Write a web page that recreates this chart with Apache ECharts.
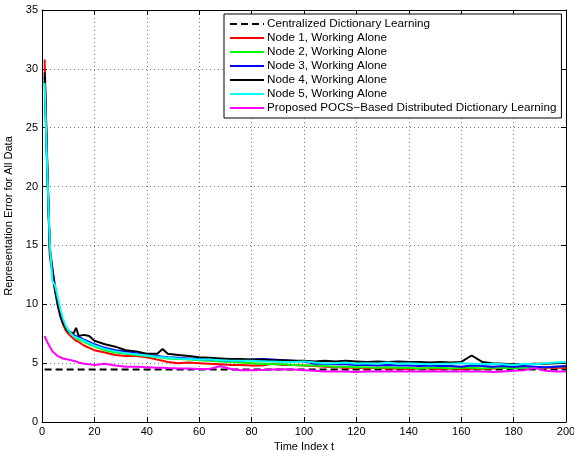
<!DOCTYPE html>
<html><head><meta charset="utf-8">
<script src="https://cdn.jsdelivr.net/npm/echarts@6/dist/echarts.min.js"></script>
<style>html,body{margin:0;padding:0;background:#fff}#c{width:574px;height:452px}</style>
</head><body><div id="c"></div>
<script>
const T = [1,2,3,4,5,6,7,8,9,10,12,13,14,16,18,20,24,28,32,36,40,44,46,48,52,56,60,64,68,72,76,80,84,88,92,96,100,104,108,112,116,120,124,128,132,136,140,144,148,152,156,160,164,168,172,176,180,184,188,192,196,200];
const central = [[1,4.45],[200,4.45]];
const node1 = [30.8,22.0,14.0,12.6,11.1,9.9,9.0,8.3,7.8,7.5,7.1,6.9,6.8,6.5,6.3,6.1,5.9,5.7,5.6,5.6,5.5,5.3,5.2,5.1,5.0,5.05,5.0,4.95,4.9,4.85,4.85,4.8,4.8,4.95,4.85,4.85,4.8,4.75,4.7,4.65,4.6,4.6,4.55,4.6,4.55,4.55,4.5,4.55,4.55,4.5,4.55,4.5,4.55,4.5,4.55,4.6,4.65,4.6,4.65,4.6,4.6,4.6];
const node2 = [29.0,21.0,14.5,12.8,11.2,10.1,9.2,8.5,8.0,7.7,7.3,7.1,7.0,6.8,6.6,6.4,6.1,5.9,5.8,5.7,5.6,5.5,5.45,5.4,5.35,5.3,5.25,5.2,5.15,5.1,5.05,5.0,4.95,4.9,4.9,4.85,4.8,4.8,4.75,4.7,4.7,4.65,4.65,4.6,4.65,4.6,4.6,4.55,4.6,4.6,4.55,4.6,4.6,4.55,4.6,4.6,4.55,4.6,4.6,4.65,4.7,4.75];
const node3 = [29.3,21.5,14.8,13.0,11.5,10.3,9.3,8.6,8.1,7.8,7.4,7.3,7.2,7.0,6.8,6.6,6.3,6.1,6.0,5.85,5.7,5.6,5.55,5.5,5.45,5.4,5.35,5.3,5.25,5.2,5.2,5.3,5.35,5.3,5.25,5.2,5.15,4.95,4.95,4.9,4.9,4.85,4.85,4.8,4.85,4.8,4.8,4.75,4.8,4.75,4.75,4.7,4.8,4.75,4.7,4.75,4.7,4.75,4.7,4.65,4.7,4.75];
const node4 = [29.7,22.0,14.5,12.8,11.2,10.0,9.0,8.4,8.0,7.7,7.5,8.0,7.3,7.4,7.3,6.9,6.6,6.4,6.1,6.0,5.8,5.8,6.2,5.8,5.7,5.6,5.5,5.45,5.4,5.35,5.35,5.3,5.3,5.25,5.25,5.2,5.2,5.15,5.2,5.15,5.2,5.15,5.1,5.15,5.1,5.15,5.1,5.1,5.05,5.1,5.05,5.1,5.65,5.1,5.0,4.95,4.9,4.9,4.95,4.95,5.0,5.05];
const node5 = [28.8,21.5,15.0,12.0,11.6,10.6,9.6,8.8,8.2,7.8,7.3,7.2,7.1,6.9,6.7,6.5,6.2,6.0,5.85,5.75,5.65,5.55,5.5,5.45,5.4,5.35,5.3,5.3,5.25,5.2,5.2,5.2,5.15,5.15,5.1,5.1,5.15,5.05,5.0,5.0,5.05,4.95,5.0,4.95,5.05,4.95,5.0,4.95,4.9,4.95,4.95,5.0,4.95,4.9,4.95,4.9,4.85,4.95,4.9,5.0,5.05,5.1];
const pocs = [7.3,6.8,6.4,6.0,5.8,5.6,5.5,5.4,5.35,5.3,5.2,5.15,5.05,4.95,4.9,4.85,4.95,4.8,4.7,4.7,4.65,4.6,4.6,4.58,4.55,4.55,4.5,4.5,4.75,4.5,4.4,4.4,4.42,4.45,4.48,4.45,4.4,4.35,4.3,4.3,4.28,4.25,4.28,4.3,4.3,4.28,4.3,4.3,4.32,4.3,4.28,4.3,4.3,4.28,4.25,4.3,4.35,4.4,4.6,4.35,4.3,4.28];
const names = ['Centralized Dictionary Learning','Node 1, Working Alone','Node 2, Working Alone','Node 3, Working Alone','Node 4, Working Alone','Node 5, Working Alone','Proposed POCS\u2212Based Distributed Dictionary Learning'];
const colors = ['#000000','#ff0000','#00ff00','#0000ff','#000000','#00ffff','#ff00ff'];
const xTicks = [0,20,40,60,80,100,120,140,160,180,200];
const yTicks = [0,5,10,15,20,25,30,35];

const zip = v => T.map((t,i)=>[t,v[i]]);
const seriesData = [central, zip(node1), zip(node2), zip(node3), zip(node4), zip(node5), zip(pocs)];
const FONT = 'Liberation Sans';
const chart = echarts.init(document.getElementById('c'), null, {renderer:'canvas'});
const gridLine = {show:true, lineStyle:{color:'#777', type:[1,3], width:1}};
const baseX = {type:'value', min:0, max:200, interval:20};
const baseY = {type:'value', min:0, max:35, interval:5};
chart.setOption({
  animation:false,
  backgroundColor:'#fff',
  grid:{left:42, right:8, top:10, bottom:30, containLabel:false, outerBoundsMode:'none'},
  xAxis:[
    Object.assign({}, baseX, {position:'bottom', name:'Time Index t', nameLocation:'middle', nameGap:17,
      nameTextStyle:{fontFamily:FONT, fontSize:11, color:'#000'},
      axisLine:{show:true, onZero:false, lineStyle:{color:'#000', width:1}},
      axisTick:{show:true, inside:true, length:5, lineStyle:{color:'#000'}},
      axisLabel:{fontFamily:FONT, fontSize:11, color:'#000', margin:4, formatter:v=>xTicks.includes(v)?String(v):''},
      splitLine:gridLine}),
    Object.assign({}, baseX, {position:'top',
      axisLine:{show:true, onZero:false, lineStyle:{color:'#000', width:1}},
      axisTick:{show:true, inside:true, length:5, lineStyle:{color:'#000'}},
      axisLabel:{show:false}, splitLine:{show:false}})
  ],
  yAxis:[
    Object.assign({}, baseY, {position:'left', name:'Representation Error for All Data', nameLocation:'middle', nameGap:24, nameRotate:90,
      nameTextStyle:{fontFamily:FONT, fontSize:11, color:'#000'},
      axisLine:{show:true, onZero:false, lineStyle:{color:'#000', width:1}},
      axisTick:{show:true, inside:true, length:5, lineStyle:{color:'#000'}},
      axisLabel:{fontFamily:FONT, fontSize:11, color:'#000', margin:4, formatter:v=>yTicks.includes(v)?String(v):''},
      splitLine:gridLine}),
    Object.assign({}, baseY, {position:'right',
      axisLine:{show:true, onZero:false, lineStyle:{color:'#000', width:1}},
      axisTick:{show:true, inside:true, length:5, lineStyle:{color:'#000'}},
      axisLabel:{show:false}, splitLine:{show:false}})
  ],
  legend:{
    orient:'vertical', left:224, top:14, padding:[4,5,4,5],
    backgroundColor:'#fff', borderColor:'#000', borderWidth:1, borderRadius:0,
    itemWidth:34, itemHeight:10, itemGap:2,
    itemStyle:{opacity:0},
    textStyle:{fontFamily:FONT, fontSize:11.7, color:'#000', padding:[0,0,0,-2]},
    data:names
  },
  series: seriesData.map((d,i)=>({
    name:names[i], type:'line', data:d, xAxisIndex:0, yAxisIndex:0,
    symbol:'none', showSymbol:false, smooth:false,
    lineStyle:{color:colors[i], width:2, type: i===0 ? [7,4] : 'solid'},
    itemStyle:{color:colors[i]},
    z: 2+i
  }))
});
</script></body></html>
